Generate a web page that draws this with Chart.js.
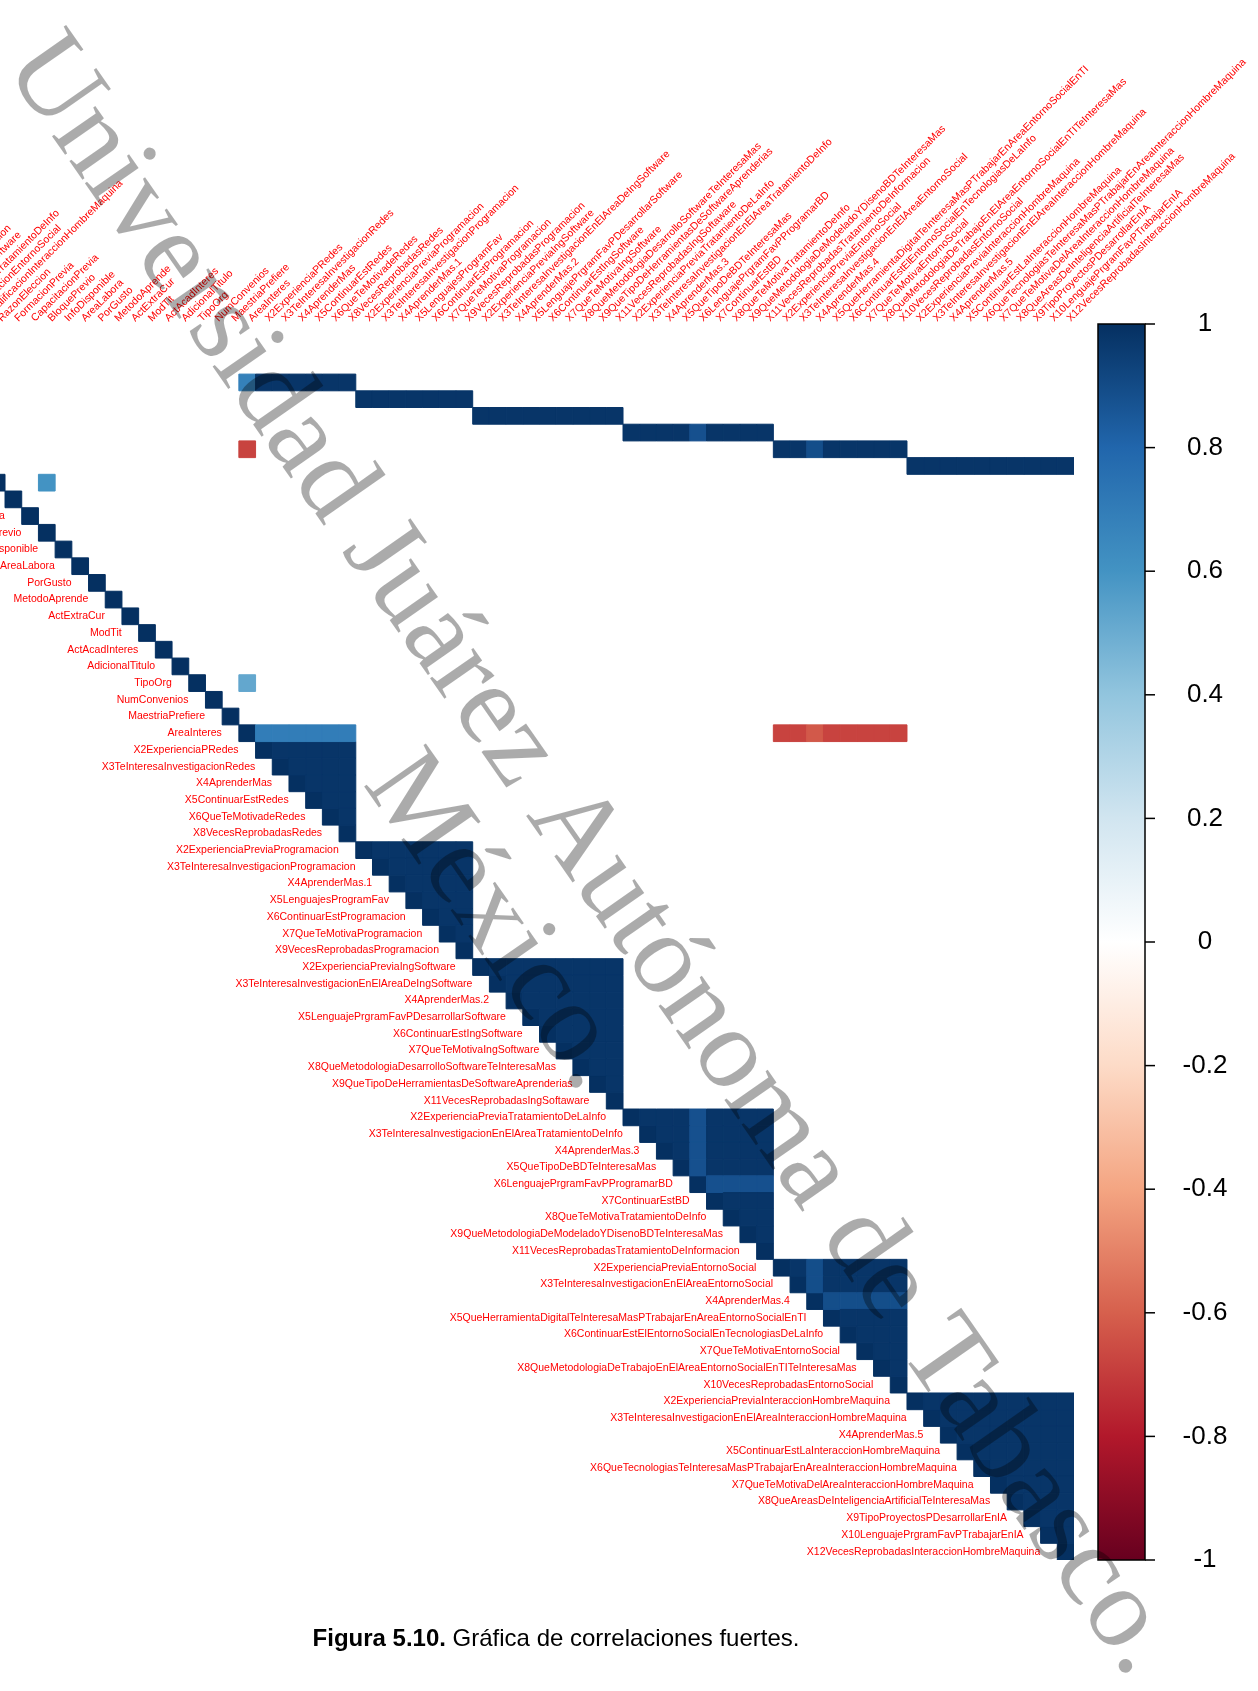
<!DOCTYPE html>
<html lang="es">
<head>
<meta charset="utf-8">
<title>Gráfica de correlaciones fuertes</title>
<script src="https://cdn.jsdelivr.net/npm/chart.js@4.4.1/dist/chart.umd.min.js"></script>
<style>
  html, body { margin: 0; padding: 0; background: #fff; overflow: hidden; }
  body { width: 1258px; height: 1691px; position: relative; }
  #grafica { position: absolute; left: -200px; top: 0; }
</style>
</head>
<body>
<canvas id="grafica" width="1458" height="1691"></canvas>
<script>
// variables en el orden de la matriz (las tres primeras quedan fuera de la figura)
const generales = ['Genero', 'Edad', 'Semestre',
  'X1CalificacionRedes', 'X1CalificacionProgramacion', 'X1CalificacionIngSoftware',
  'X1CalificacionTratamientoDeInfo', 'X1CalificacionEntornoSocial', 'X1CalificacionInteraccionHombreMaquina',
  'RazonEleccion', 'FormacionPrevia', 'CapacitacionPrevia', 'BloquePrevio', 'InfoDisponible',
  'AreaLabora', 'PorGusto', 'MetodoAprende', 'ActExtraCur', 'ModTit', 'ActAcadInteres',
  'AdicionalTitulo', 'TipoOrg', 'NumConvenios', 'MaestriaPrefiere', 'AreaInteres'];
const redes = ['X2ExperienciaPRedes', 'X3TeInteresaInvestigacionRedes', 'X4AprenderMas',
  'X5ContinuarEstRedes', 'X6QueTeMotivadeRedes', 'X8VecesReprobadasRedes'];
const programacion = ['X2ExperienciaPreviaProgramacion', 'X3TeInteresaInvestigacionProgramacion',
  'X4AprenderMas.1', 'X5LenguajesProgramFav', 'X6ContinuarEstProgramacion',
  'X7QueTeMotivaProgramacion', 'X9VecesReprobadasProgramacion'];
const ingSoftware = ['X2ExperienciaPreviaIngSoftware', 'X3TeInteresaInvestigacionEnElAreaDeIngSoftware',
  'X4AprenderMas.2', 'X5LenguajePrgramFavPDesarrollarSoftware', 'X6ContinuarEstIngSoftware',
  'X7QueTeMotivaIngSoftware', 'X8QueMetodologiaDesarrolloSoftwareTeInteresaMas',
  'X9QueTipoDeHerramientasDeSoftwareAprenderias', 'X11VecesReprobadasIngSoftaware'];
const tratamiento = ['X2ExperienciaPreviaTratamientoDeLaInfo', 'X3TeInteresaInvestigacionEnElAreaTratamientoDeInfo',
  'X4AprenderMas.3', 'X5QueTipoDeBDTeInteresaMas', 'X6LenguajePrgramFavPProgramarBD', 'X7ContinuarEstBD',
  'X8QueTeMotivaTratamientoDeInfo', 'X9QueMetodologiaDeModeladoYDisenoBDTeInteresaMas',
  'X11VecesReprobadasTratamientoDeInformacion'];
const entornoSocial = ['X2ExperienciaPreviaEntornoSocial', 'X3TeInteresaInvestigacionEnElAreaEntornoSocial',
  'X4AprenderMas.4', 'X5QueHerramientaDigitalTeInteresaMasPTrabajarEnAreaEntornoSocialEnTI',
  'X6ContinuarEstElEntornoSocialEnTecnologiasDeLaInfo', 'X7QueTeMotivaEntornoSocial',
  'X8QueMetodologiaDeTrabajoEnElAreaEntornoSocialEnTITeInteresaMas', 'X10VecesReprobadasEntornoSocial'];
const interaccionHM = ['X2ExperienciaPreviaInteraccionHombreMaquina',
  'X3TeInteresaInvestigacionEnElAreaInteraccionHombreMaquina', 'X4AprenderMas.5',
  'X5ContinuarEstLaInteraccionHombreMaquina', 'X6QueTecnologiasTeInteresaMasPTrabajarEnAreaInteraccionHombreMaquina',
  'X7QueTeMotivaDelAreaInteraccionHombreMaquina', 'X8QueAreasDeInteligenciaArtificialTeInteresaMas',
  'X9TipoProyectosPDesarrollarEnIA', 'X10LenguajePrgramFavPTrabajarEnIA',
  'X12VecesReprobadasInteraccionHombreMaquina'];

const bloques = [redes, programacion, ingSoftware, tratamiento, entornoSocial, interaccionHM];
// correlacion dentro de cada bloque
const rBloques = [0.98, 0.98, 0.98, 0.98, 0.98, 0.98];
// variables algo menos correlacionadas con su bloque
const rMenores = { 'X6LenguajePrgramFavPProgramarBD': 0.88, 'X4AprenderMas.4': 0.89 };

// filas de calificaciones contra su bloque
const calificacionRedes = [0.68, 0.98, 0.98, 0.98, 0.98, 0.98, 0.98]; // AreaInteres + redes
const calificacionProgramacion = [0.98, 0.98, 0.98, 0.98, 0.98, 0.98, 0.98];
const calificacionIngSoftware = [0.98, 0.98, 0.98, 0.98, 0.98, 0.98, 0.98, 0.98, 0.98];
const calificacionTratamiento = [0.98, 0.98, 0.98, 0.98, 0.88, 0.98, 0.98, 0.98, 0.98];
const calificacionEntorno = [0.98, 0.98, 0.89, 0.98, 0.98, 0.98, 0.98, 0.98];
const calificacionIHM = [0.98, 0.98, 0.98, 0.98, 0.98, 0.98, 0.98, 0.98, 0.98, 0.98];
// AreaInteres contra redes y entorno social
const areaInteresRedes = [0.70, 0.70, 0.70, 0.70, 0.70, 0.70];
const areaInteresEntorno = [-0.68, -0.68, -0.62, -0.68, -0.68, -0.68, -0.68, -0.68];
// celdas sueltas: fila, columna, r
const celdasSueltas = [
  ['RazonEleccion', 'BloquePrevio', 0.60],
  ['TipoOrg', 'AreaInteres', 0.52],
  ['X1CalificacionEntornoSocial', 'AreaInteres', -0.68]
];

const ticksBarra = [1, 0.8, 0.6, 0.4, 0.2, 0, -0.2, -0.4, -0.6, -0.8, -1];
const paleta = ['#67001F', '#B2182B', '#D6604D', '#F4A582', '#FDDBC7', '#FFFFFF',
  '#D1E5F0', '#92C5DE', '#4393C3', '#2166AC', '#053061'];

const variables = [...generales, ...redes, ...programacion, ...ingSoftware, ...tratamiento, ...entornoSocial, ...interaccionHM];
const n = variables.length;
const idx = name => variables.indexOf(name);

function hex(c) {
  return [parseInt(c.slice(1, 3), 16), parseInt(c.slice(3, 5), 16), parseInt(c.slice(5, 7), 16)];
}
function colorDe(r) {
  const t = (r + 1) / 2 * (paleta.length - 1);
  const k = Math.min(Math.floor(t), paleta.length - 2);
  const f = t - k;
  const a = hex(paleta[k]), b = hex(paleta[k + 1]);
  const m = a.map((v, i) => Math.round(v + (b[i] - v) * f));
  return `rgb(${m[0]},${m[1]},${m[2]})`;
}

// armar las celdas de la matriz (triangulo superior)
const puntos = [];
function celda(fila, col, r) { puntos.push({ x: col, y: fila, r: r }); }

variables.forEach((v, i) => celda(i, i, 1));
bloques.forEach((b, k) => {
  for (let a = 0; a < b.length; a++) {
    for (let c = a + 1; c < b.length; c++) {
      const r = Math.min(rBloques[k], rMenores[b[a]] || 1, rMenores[b[c]] || 1);
      celda(idx(b[a]), idx(b[c]), r);
    }
  }
});
function fila(nombre, desde, valores) {
  const i = idx(nombre), j0 = idx(desde);
  valores.forEach((r, k) => celda(i, j0 + k, r));
}
fila('X1CalificacionRedes', 'AreaInteres', calificacionRedes);
fila('X1CalificacionProgramacion', programacion[0], calificacionProgramacion);
fila('X1CalificacionIngSoftware', ingSoftware[0], calificacionIngSoftware);
fila('X1CalificacionTratamientoDeInfo', tratamiento[0], calificacionTratamiento);
fila('X1CalificacionEntornoSocial', entornoSocial[0], calificacionEntorno);
fila('X1CalificacionInteraccionHombreMaquina', interaccionHM[0], calificacionIHM);
fila('AreaInteres', redes[0], areaInteresRedes);
fila('AreaInteres', entornoSocial[0], areaInteresEntorno);
celdasSueltas.forEach(c => celda(idx(c[0]), idx(c[1]), c[2]));

const ladoCelda = chart => {
  const s = chart.scales.x;
  return Math.abs(s.getPixelForValue(1) - s.getPixelForValue(0));
};

const etiquetas = {
  id: 'etiquetas',
  afterDatasetsDraw(chart) {
    const { ctx, scales: { x, y } } = chart;
    const lado = ladoCelda(chart);
    ctx.save();
    ctx.fillStyle = '#FF0000';
    ctx.font = '10.5px "Liberation Sans", Arial, sans-serif';
    // etiquetas de columnas arriba, a 45 grados
    variables.forEach((v, j) => {
      ctx.save();
      ctx.translate(x.getPixelForValue(j) + 5, y.top - 2);
      ctx.rotate(-Math.PI / 4);
      ctx.textAlign = 'left';
      ctx.textBaseline = 'alphabetic';
      ctx.fillText(v, 0, 0);
      ctx.restore();
    });
    // etiquetas de filas sobre la diagonal
    ctx.textAlign = 'right';
    ctx.textBaseline = 'middle';
    variables.forEach((v, i) => {
      ctx.fillText(v, x.getPixelForValue(i) - lado / 2 - 17, y.getPixelForValue(i));
    });
    ctx.restore();
  }
};

const barraColor = {
  id: 'barraColor',
  afterDraw(chart) {
    const { ctx } = chart;
    const cb = chart.scales.cb;
    const x0 = 1298, x1 = 1345;
    const yTop = cb.getPixelForValue(1), yBot = cb.getPixelForValue(-1);
    const g = ctx.createLinearGradient(0, yBot, 0, yTop);
    paleta.forEach((c, k) => g.addColorStop(k / (paleta.length - 1), c));
    ctx.save();
    ctx.fillStyle = g;
    ctx.fillRect(x0, yTop, x1 - x0, yBot - yTop);
    ctx.strokeStyle = '#000';
    ctx.lineWidth = 1.5;
    ctx.strokeRect(x0, yTop, x1 - x0, yBot - yTop);
    ctx.fillStyle = '#000';
    ctx.font = '26px "Liberation Sans", Arial, sans-serif';
    ctx.textAlign = 'center';
    ctx.textBaseline = 'middle';
    ticksBarra.forEach(t => {
      const py = cb.getPixelForValue(t);
      ctx.beginPath();
      ctx.moveTo(x1, py);
      ctx.lineTo(x1 + 10, py);
      ctx.stroke();
      ctx.fillText(String(t), 1405, py);
    });
    ctx.restore();
  }
};

const marcaAgua = {
  id: 'marcaAgua',
  afterDraw(chart) {
    const { ctx } = chart;
    ctx.save();
    // pie de figura
    ctx.fillStyle = '#000';
    ctx.textBaseline = 'alphabetic';
    const negrita = 'bold 24px "Liberation Sans", Arial, sans-serif';
    const normal = '24px "Liberation Sans", Arial, sans-serif';
    const t1 = 'Figura 5.10.', t2 = ' Gráfica de correlaciones fuertes.';
    ctx.font = negrita; const w1 = ctx.measureText(t1).width;
    ctx.font = normal; const w2 = ctx.measureText(t2).width;
    const xs = 756 - (w1 + w2) / 2;
    ctx.textAlign = 'left';
    ctx.font = negrita; ctx.fillText(t1, xs, 1646);
    ctx.font = normal; ctx.fillText(t2, xs + w1, 1646);
    // marca de agua en dos lineas
    ctx.translate(203, 66);
    ctx.rotate(55.1 * Math.PI / 180);
    ctx.fillStyle = 'rgba(0,0,0,0.33)';
    ctx.font = '115px "Liberation Serif", "Times New Roman", serif';
    const l1 = 'Universidad Juárez Autónoma de Tabasco.', l2 = 'México.';
    const a1 = ctx.measureText(l1).width, a2 = ctx.measureText(l2).width;
    ctx.textAlign = 'left';
    ctx.fillText(l1, 0, 0);
    ctx.fillText(l2, (a1 - a2) / 2, 116);
    ctx.restore();
  }
};

new Chart(document.getElementById('grafica'), {
  type: 'scatter',
  data: {
    datasets: [{
      data: puntos,
      pointStyle: 'rect',
      pointRadius: c => ladoCelda(c.chart) / Math.SQRT2,
      pointHoverRadius: c => ladoCelda(c.chart) / Math.SQRT2,
      pointBackgroundColor: c => colorDe(c.raw.r),
      pointBorderColor: c => colorDe(c.raw.r),
      pointBorderWidth: 1
    }]
  },
  options: {
    responsive: false,
    animation: false,
    events: [],
    layout: { padding: { left: 38, right: 184, top: 324, bottom: 131 } },
    scales: {
      x: { type: 'linear', min: -0.5, max: n - 0.5, display: false },
      y: { type: 'linear', min: -0.5, max: n - 0.5, reverse: true, display: false },
      cb: { type: 'linear', axis: 'y', position: 'right', min: -1, max: 1, display: false }
    },
    plugins: { legend: { display: false }, tooltip: { enabled: false } }
  },
  plugins: [etiquetas, barraColor, marcaAgua]
});
</script>
</body>
</html>
